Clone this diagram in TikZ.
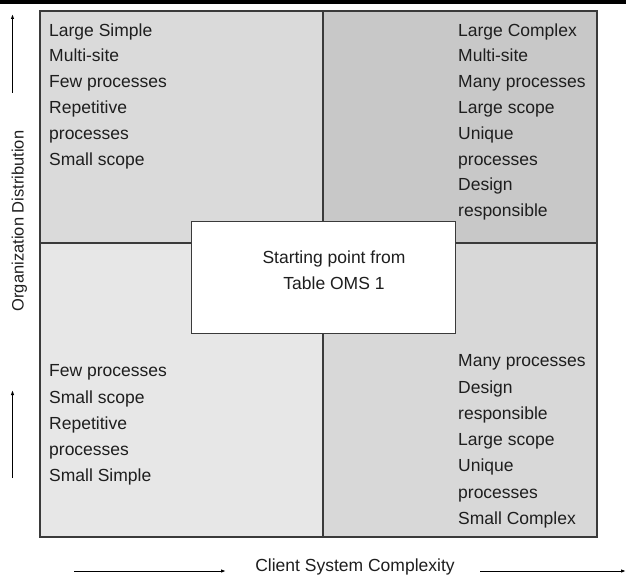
\documentclass[tikz,border=0pt]{standalone}
\usepackage{fontspec}
\setmainfont{Liberation Sans}
\usetikzlibrary{arrows.meta}
\definecolor{qtl}{HTML}{DADADA}
\definecolor{qtr}{HTML}{C8C8C8}
\definecolor{qbl}{HTML}{E7E7E7}
\definecolor{qbr}{HTML}{D8D8D8}
\definecolor{gridc}{HTML}{3A3A3A}
\definecolor{txtc}{HTML}{1E1E1E}
\tikzset{
  gridline/.style={draw=gridc, line width=1.1pt},
  qtext/.style={inner sep=0pt, align=left, anchor=north west, text=txtc,
    font={\fontsize{17.5}{25.8}\selectfont}},
  qtextb/.style={qtext, font={\fontsize{17.5}{26.3}\selectfont}},
  ctext/.style={inner sep=0pt, align=center, text=txtc,
    font={\fontsize{17.5}{25.7}\selectfont}},
  axlabel/.style={inner sep=0pt, text=txtc, font={\fontsize{17.5}{20}\selectfont}},
  startbox/.style={draw=gridc, line width=1.3pt, fill=white, inner sep=0pt,
    minimum width=264pt, minimum height=112pt, anchor=north west},
  axarrow/.style={draw=black, line width=1pt, -{Latex[length=5pt,width=3.5pt]}},
}
\begin{document}
\begin{tikzpicture}[x=1pt,y=-1pt]
\useasboundingbox (0,0) rectangle (626,575);
% top bar
\fill[black] (0,0) rectangle (626,4.5);
% quadrants
\fill[qtl] (40,11) rectangle (323,243);
\fill[qtr] (323,11) rectangle (597,243);
\fill[qbl] (40,243) rectangle (323,537);
\fill[qbr] (323,243) rectangle (597,537);
\draw[gridline] (40,11) rectangle (597,537);
\draw[gridline] (323,11) -- (323,537);
\draw[gridline] (40,243) -- (597,243);
% central box
\node[startbox] (start) at (191,221) {};
\node[ctext] (starttext) at (334,270.5) {Starting point from\\Table OMS 1};
% quadrant texts
\node[qtext] (tl) at (49,23.2) {Large Simple\\Multi-site\\Few processes\\Repetitive\\processes\\Small scope};
\node[qtext] (tr) at (458,23.2) {Large Complex\\Multi-site\\Many processes\\Large scope\\Unique\\processes\\Design\\responsible};
\node[qtextb] (bl) at (49,364.5) {Few processes\\Small scope\\Repetitive\\processes\\Small Simple};
\node[qtextb] (br) at (458,354.5) {Many processes\\Design\\responsible\\Large scope\\Unique\\processes\\Small Complex};
% vertical axis
\node[axlabel, rotate=90, anchor=base, font={\fontsize{16.5}{20}\selectfont}] (ylab) at (23.5,221) {Organization Distribution};
\coordinate (ya1) at (12.5,93);
\coordinate (yb1) at (12.5,14);
\coordinate (ya2) at (12.5,478);
\coordinate (yb2) at (12.5,390);
\draw[axarrow] (ya1) -- (yb1);
\draw[axarrow] (ya2) -- (yb2);
% horizontal axis
\node[axlabel, anchor=base] (xlab) at (355,571) {Client System Complexity};
\coordinate (xa1) at (74,571);
\coordinate (xb1) at (226,571);
\coordinate (xa2) at (480,571);
\coordinate (xb2) at (626,571);
\draw[axarrow] (xa1) -- (xb1);
\draw[axarrow] (xa2) -- (xb2);
\end{tikzpicture}
\end{document}
